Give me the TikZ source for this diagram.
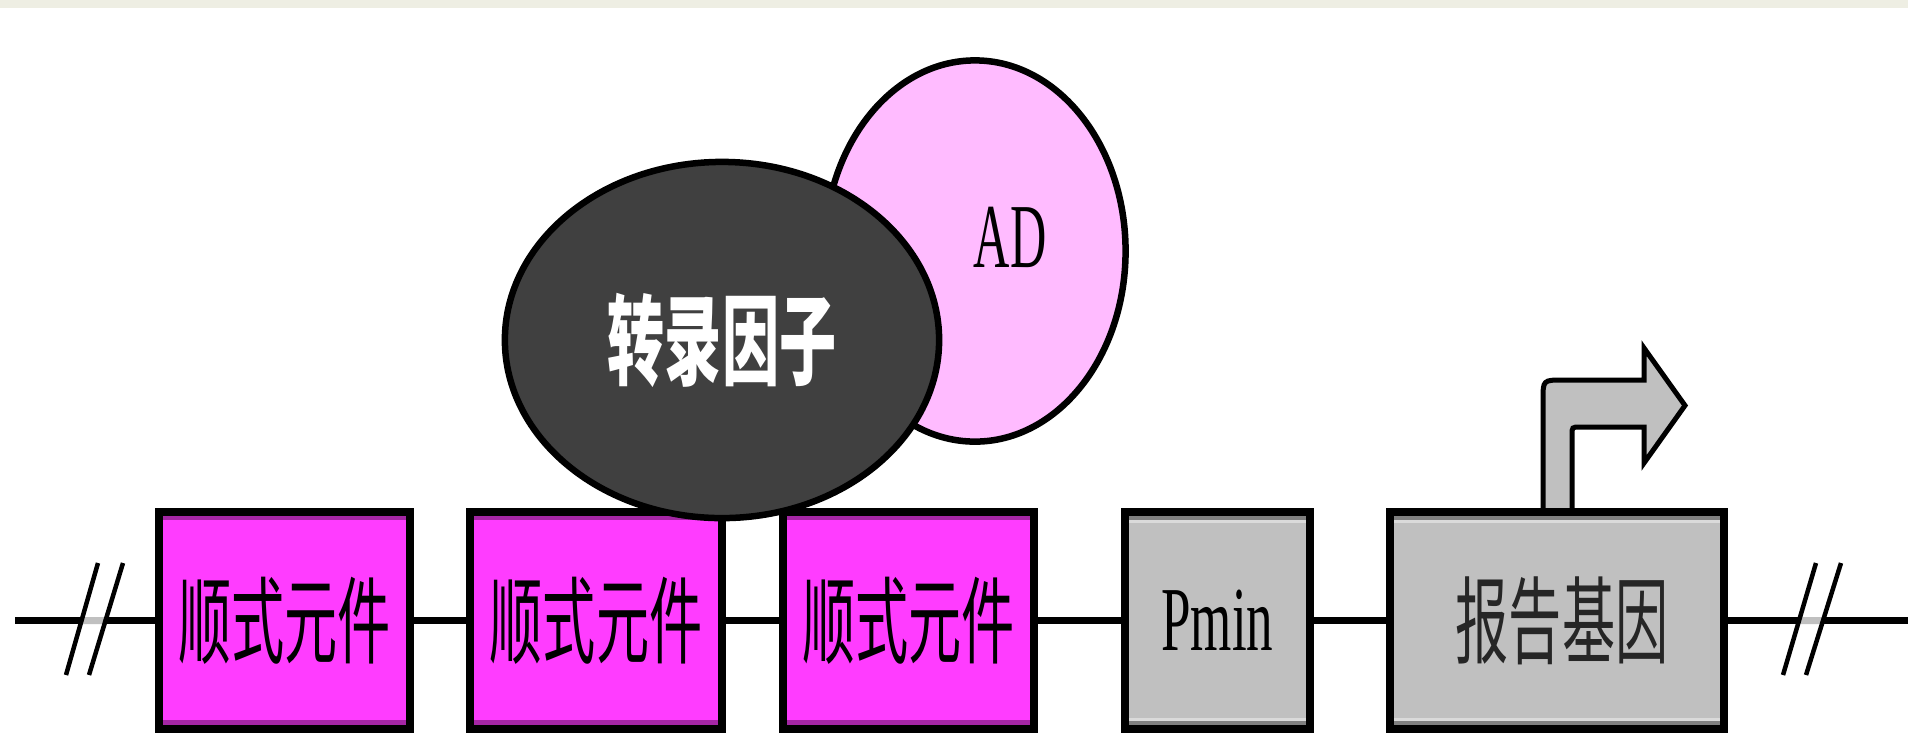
\documentclass[tikz,border=0pt]{standalone}
\usepackage{fontspec}
\usepackage{graphicx}
\usetikzlibrary{shapes.geometric}
\newfontfamily\cjk{Noto Sans CJK SC}
\newfontfamily\ser{Liberation Serif}
\definecolor{mag}{HTML}{FF3CFF}
\definecolor{magdk}{HTML}{A526A5}
\definecolor{gbox}{HTML}{C0C0C0}
\definecolor{gdk}{HTML}{808080}
\definecolor{glt}{HTML}{DADADA}
\definecolor{tfgray}{HTML}{404040}
\definecolor{adpink}{HTML}{FFBBFF}
\definecolor{stripc}{HTML}{EEEEE3}
\begin{document}
\begin{tikzpicture}[x=0.01cm,y=-0.01cm,
  elem/.style={draw=black, line width=0.08cm, rectangle, inner sep=0pt, minimum height=2.17cm},
  cisbox/.style={elem, fill=mag, minimum width=2.51cm,
    font=\cjk\fontsize{27}{27}\selectfont,
    path picture={
      \fill[magdk] (path picture bounding box.north west) rectangle ([yshift=-0.08cm]path picture bounding box.north east);
      \fill[magdk] (path picture bounding box.south west) rectangle ([yshift=0.09cm]path picture bounding box.south east);}},
  graybox/.style={elem, fill=gbox,
    path picture={
      \fill[gdk] (path picture bounding box.north west) rectangle ([yshift=-0.08cm]path picture bounding box.north east);
      \fill[glt] ([yshift=-0.08cm]path picture bounding box.north west) rectangle ([yshift=-0.11cm]path picture bounding box.north east);
      \fill[gdk] (path picture bounding box.south west) rectangle ([yshift=0.08cm]path picture bounding box.south east);
      \fill[glt] ([yshift=0.08cm]path picture bounding box.south west) rectangle ([yshift=0.11cm]path picture bounding box.south east);}},
  dnaline/.style={draw=black, line width=0.07cm},
  slash/.style={draw=black, line width=0.045cm},
  blob/.style={ellipse, draw=black, line width=0.065cm, inner sep=0pt}
]
\clip (0,0) rectangle (1908,732);
\fill[white] (0,0) rectangle (1908,732);
\fill[stripc] (0,0) rectangle (1908,8);

% transcription start arrow
\filldraw[fill=gbox, draw=black, line width=0.05cm, line join=miter]
  (1543,512) -- (1543,400) .. controls (1543,380) .. (1563,380) -- (1644,380)
  -- (1644,348) -- (1685,405.5) -- (1644,463) -- (1644,427) -- (1580,427)
  .. controls (1572,427) .. (1572,435) -- (1572,512) -- cycle;

% elements
\node[cisbox] (c1) at (284.5,620.5) {\scalebox{0.56}[1]{顺式元件}};
\node[cisbox] (c2) at (596,620.5) {\scalebox{0.56}[1]{顺式元件}};
\node[cisbox] (c3) at (908.5,620.5) {\scalebox{0.56}[1]{顺式元件}};
\node[graybox, minimum width=1.85cm] (pmin) at (1217.5,620.5)
  {\ser\fontsize{26}{26}\selectfont\scalebox{0.58}[1]{Pmin}};
\node[graybox, minimum width=3.34cm] (rep) at (1557,620.5)
  {\cjk\fontsize{27}{27}\selectfont\color{black!85}\hspace{0.1cm}\scalebox{0.56}[1]{报告基因}};

\coordinate (lend) at (15,620.5);
\coordinate (rend) at (1908,620.5);
\draw[dnaline] (lend) -- (c1) (c1) -- (c2) (c2) -- (c3) (c3) -- (pmin) (pmin) -- (rep) (rep) -- (rend);

% break marks
\fill[gbox] (83,617) -- (104,617) -- (103,624) -- (82,624) -- cycle;
\draw[slash] (98,563) -- (66,675);
\draw[slash] (123,563) -- (89,675);
\fill[gbox] (1800,617) -- (1822,617) -- (1821,624) -- (1799,624) -- cycle;
\draw[slash] (1816,563) -- (1783,675);
\draw[slash] (1841,563) -- (1806,675);

% proteins
\node[blob, fill=adpink, minimum width=3.01cm, minimum height=3.81cm] (ad) at (975,251) {};
\node[font=\ser\fontsize{26}{26}\selectfont] (adlabel) at (1010,237) {\scalebox{0.55}[1]{AD}};
\node[blob, fill=tfgray, minimum width=4.34cm, minimum height=3.56cm,
  font=\cjk\bfseries\fontsize{28}{28}\selectfont, text=white] (tf) at (722,340)
  {\scalebox{0.58}[1]{转录因子}};
\end{tikzpicture}
\end{document}
